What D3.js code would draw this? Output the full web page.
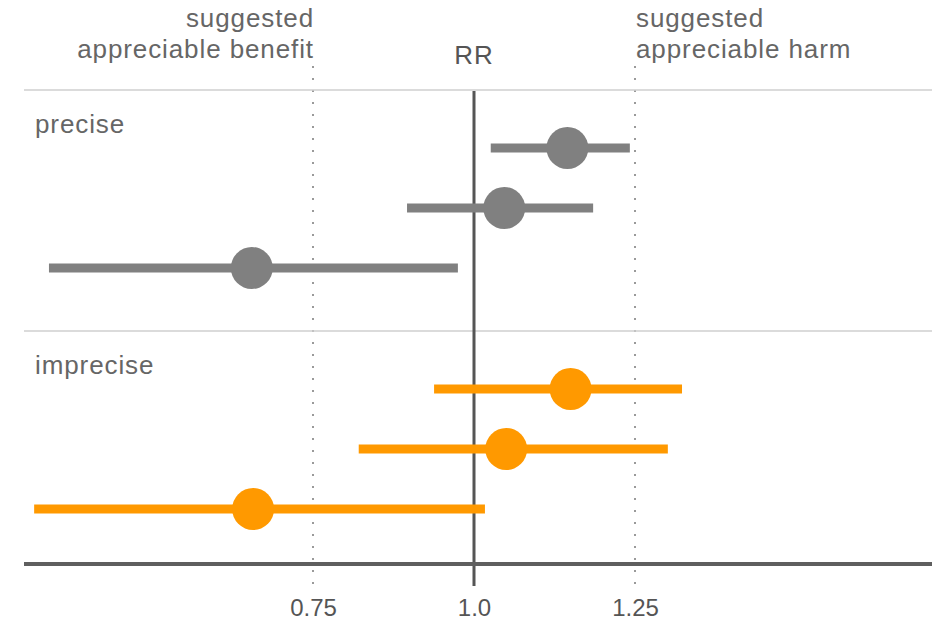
<!DOCTYPE html>
<html>
<head>
<meta charset="utf-8">
<script src="https://cdn.jsdelivr.net/npm/d3@7"></script>
<style>
  html, body { margin: 0; padding: 0; background: #fff; }
  svg { display: block; font-family: "Liberation Sans", Arial, Helvetica, sans-serif; }
</style>
</head>
<body>
<svg id="chart" width="932" height="624"></svg>
<script>
// Groups and their colours
const groups = ["precise", "imprecise"];
const groupColors = ["#808080", "#ff9900"];

// Relative risk estimates with confidence limits, three studies per group
const preciseRR    = [1.145, 1.047, 0.655];
const preciseLow   = [1.026, 0.896, 0.340];
const preciseHigh  = [1.242, 1.185, 0.975];
const impreciseRR   = [1.150, 1.050, 0.657];
const impreciseLow  = [0.938, 0.821, 0.317];
const impreciseHigh = [1.323, 1.301, 1.017];

// Axis ticks and reference thresholds
const tickValues = [0.75, 1.0, 1.25];
const tickLabels = ["0.75", "1.0", "1.25"];
const nullValue = 1.0;
const benefitThreshold = 0.75;
const harmThreshold = 1.25;

const svg = d3.select("#chart");
const plotLeft = 24, plotRight = 932;
const axisY = 564;

const x = d3.scaleLinear().domain([0.3, 1.7]).range([23.2, 924.8]);
const panel = d3.scaleBand().domain(groups).range([90, 572]);
const row = d3.scalePoint().domain([0, 1, 2]).range([58, 178]);

const series = {
  precise:   preciseRR.map((v, i) => ({ rr: v, lo: preciseLow[i], hi: preciseHigh[i], i })),
  imprecise: impreciseRR.map((v, i) => ({ rr: v, lo: impreciseLow[i], hi: impreciseHigh[i], i }))
};

// Threshold lines (dotted)
[benefitThreshold, harmThreshold].forEach(v => {
  svg.append("line")
    .attr("x1", x(v)).attr("x2", x(v))
    .attr("y1", 66).attr("y2", 586)
    .attr("stroke", "#9a9a9a").attr("stroke-width", 2)
    .attr("stroke-dasharray", "2,10");
});

// Panel separators
groups.forEach(g => {
  svg.append("line")
    .attr("x1", plotLeft).attr("x2", plotRight)
    .attr("y1", panel(g)).attr("y2", panel(g))
    .attr("stroke", "#cfcfcf").attr("stroke-width", 1.5);
});

// Null effect line
svg.append("line")
  .attr("x1", x(nullValue)).attr("x2", x(nullValue))
  .attr("y1", 91).attr("y2", 586)
  .attr("stroke", "#555").attr("stroke-width", 3);

// Bottom axis line
svg.append("line")
  .attr("x1", plotLeft).attr("x2", plotRight)
  .attr("y1", axisY).attr("y2", axisY)
  .attr("stroke", "#5f5f5f").attr("stroke-width", 4);

// Tick labels
const axis = d3.axisBottom(x).tickValues(tickValues)
  .tickFormat((d, i) => tickLabels[i]).tickSize(0).tickPadding(0);
const axisG = svg.append("g").attr("transform", `translate(0,${axisY})`).call(axis);
axisG.select(".domain").remove();
axisG.selectAll("text")
  .attr("y", 52).attr("dy", 0)
  .attr("font-size", 24).attr("fill", "#555")
  .attr("font-family", "Liberation Sans, Arial, sans-serif");

// Group labels and intervals
groups.forEach((g, gi) => {
  const top = panel(g);
  svg.append("text")
    .attr("x", 35).attr("y", top + 43)
    .attr("font-size", 26).attr("fill", "#666")
    .attr("letter-spacing", 0.9)
    .text(g);

  const gg = svg.append("g");
  gg.selectAll("line.ci").data(series[g]).join("line")
    .attr("class", "ci")
    .attr("x1", d => x(d.lo)).attr("x2", d => x(d.hi))
    .attr("y1", d => top + row(d.i)).attr("y2", d => top + row(d.i))
    .attr("stroke", groupColors[gi]).attr("stroke-width", 9);
  gg.selectAll("circle").data(series[g]).join("circle")
    .attr("cx", d => x(d.rr)).attr("cy", d => top + row(d.i))
    .attr("r", 21).attr("fill", groupColors[gi]);
});

// Header annotations
const header = svg.append("g").attr("font-size", 26).attr("fill", "#666")
  .attr("letter-spacing", 0.9);
const benefit = header.append("text").attr("text-anchor", "end");
benefit.append("tspan").attr("x", x(benefitThreshold) + 1).attr("y", 27).text("suggested");
benefit.append("tspan").attr("x", x(benefitThreshold) + 1).attr("y", 58).text("appreciable benefit");
const harm = header.append("text").attr("text-anchor", "start");
harm.append("tspan").attr("x", x(harmThreshold) + 1).attr("y", 27).text("suggested");
harm.append("tspan").attr("x", x(harmThreshold) + 1).attr("y", 58).text("appreciable harm");
header.append("text").attr("text-anchor", "middle")
  .attr("x", x(nullValue)).attr("y", 64).attr("fill", "#555").text("RR");
</script>
</body>
</html>
